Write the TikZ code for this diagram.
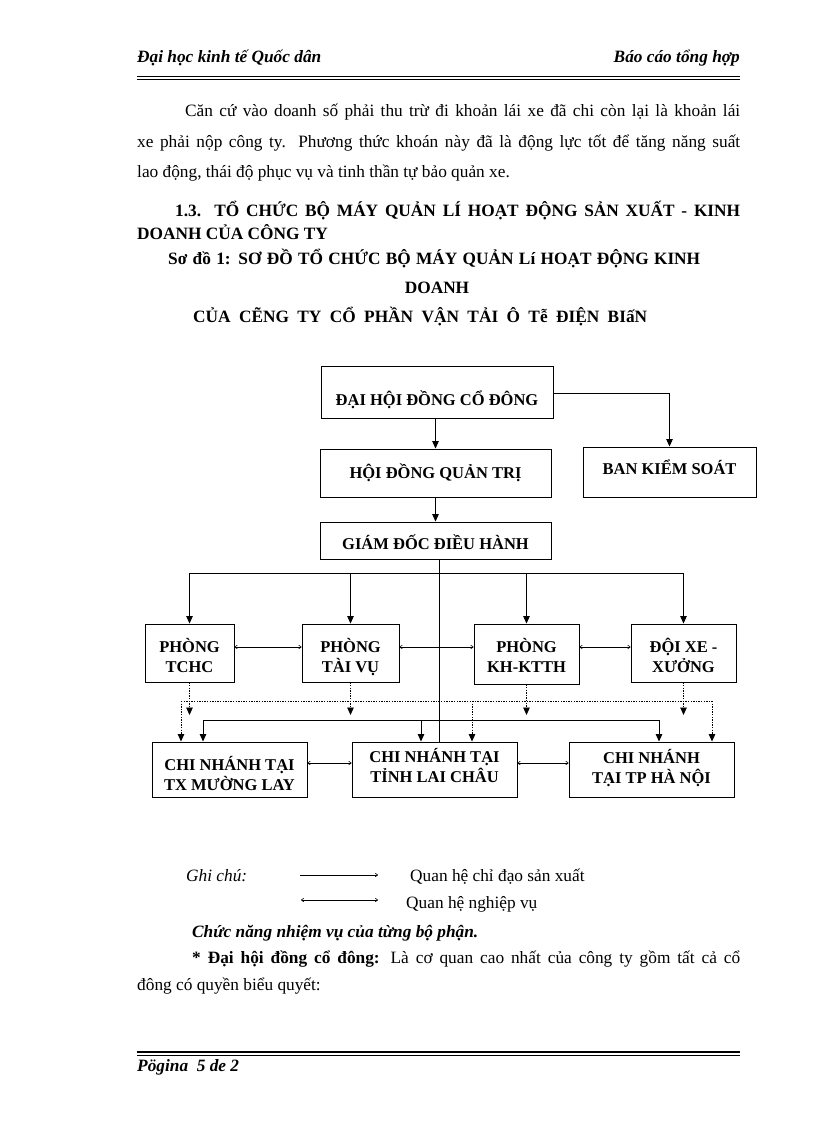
\documentclass[tikz,border=0pt]{standalone}
\usepackage{fontspec}
\setmainfont{Liberation Serif}
\usetikzlibrary{arrows.meta,calc}
\newcommand\boxtxt[2]{\raisebox{-#1pt}[0pt][0pt]{\begin{tabular}[t]{@{}c@{}}#2\end{tabular}}}
\begin{document}
\begin{tikzpicture}[x=1pt,y=-1pt,
  txt/.style={anchor=base west, inner sep=0pt, font=\fontsize{17.3}{20}\selectfont},
  btxt/.style={txt, font=\fontsize{17.3}{20}\selectfont\bfseries},
  bitxt/.style={txt, font=\fontsize{17.3}{20}\selectfont\bfseries\itshape},
  box/.style={draw, line width=0.9pt, inner sep=0pt, font=\fontsize{16.5}{19.5}\selectfont\bfseries},
  conn/.style={line width=0.9pt},
  arr/.style={conn, -{Triangle[length=7.5pt,width=6.5pt]}},
  dotl/.style={line width=0.9pt, dash pattern=on 1.3pt off 1.3pt},
  darr/.style={dotl, -{Triangle[length=7.5pt,width=6.5pt]}},
  dbl/.style={line width=0.6pt, {To[length=3pt,width=4pt]}-{To[length=3pt,width=4pt]}},
  sarr/.style={line width=0.6pt, -{To[length=3pt,width=4pt]}},
]
\useasboundingbox (0,0) rectangle (816,1123);
\fill[white] (0,0) rectangle (816,1123);

% header
\node[bitxt] (h1) at (137,63) {Đại học kinh tế Quốc dân};
\node[bitxt, anchor=base east] (h2) at (740,63) {Báo cáo tổng hợp};
\draw[line width=1.8pt] (137,76.5) -- (740,76.5);
\draw[line width=0.7pt] (137,79.4) -- (740,79.4);

% paragraph
\node[txt] (p1) at (185,117) {\makebox[555pt][s]{Căn cứ vào doanh số phải thu trừ đi khoản lái xe đã chi còn lại là khoản lái}};
\node[txt] (p2) at (137,148) {\makebox[603pt][s]{xe phải nộp công ty. Phương thức khoán này đã là động lực tốt để tăng năng suất}};
\node[txt] (p3) at (137,178) {lao động, thái độ phục vụ và tinh thần tự bảo quản xe.};

% headings
\node[btxt] (t1) at (175,217) {\makebox[565pt][s]{1.3. TỔ CHỨC BỘ MÁY QUẢN LÍ HOẠT ĐỘNG SẢN XUẤT - KINH}};
\node[btxt] (t2) at (137,240) {DOANH CỦA CÔNG TY};
\node[btxt] (t3) at (168,264) {\makebox[532pt][s]{Sơ đồ 1: SƠ ĐỒ TỔ CHỨC BỘ MÁY QUẢN Lí HOẠT ĐỘNG KINH}};
\node[btxt, anchor=base] (t4) at (437,293) {DOANH};
\node[btxt] (t5) at (193,322) {\makebox[454pt][s]{CỦA CẼNG TY CỔ PHẦN VẬN TẢI Ô Tễ ĐIỆN BIấN}};

% boxes
\node[box, minimum width=232pt, minimum height=52pt] (dh) at (437,392) {\boxtxt{13.5}{ĐẠI HỘI ĐỒNG CỔ ĐÔNG}};
\node[box, minimum width=231pt, minimum height=48pt] (hdqt) at (435.5,473) {\boxtxt{5.5}{HỘI ĐỒNG QUẢN TRỊ}};
\node[box, minimum width=173pt, minimum height=50pt] (bks) at (669.5,472) {\boxtxt{2.5}{BAN KIỂM SOÁT}};
\node[box, minimum width=231pt, minimum height=37pt] (gd) at (435.5,540.5) {\boxtxt{9}{GIÁM ĐỐC ĐIỀU HÀNH}};
\node[box, minimum width=89pt, minimum height=58pt] (tchc) at (189.5,653) {\boxtxt{-0.5}{PHÒNG\\TCHC}};
\node[box, minimum width=97pt, minimum height=58pt] (taivu) at (350.5,653) {\boxtxt{-0.5}{PHÒNG\\TÀI VỤ}};
\node[box, minimum width=105pt, minimum height=60pt] (kh) at (526.5,654) {\boxtxt{-1.5}{PHÒNG\\KH-KTTH}};
\node[box, minimum width=105pt, minimum height=58pt] (doixe) at (683.5,653) {\boxtxt{-0.5}{ĐỘI XE -\\XƯỞNG}};
\node[box, minimum width=155pt, minimum height=55pt] (ml) at (229.5,769.5) {\boxtxt{1}{CHI NHÁNH TẠI\\TX MƯỜNG LAY}};
\node[box, minimum width=165pt, minimum height=55pt] (lc) at (434.5,769.5) {\boxtxt{-7}{CHI NHÁNH TẠI\\TỈNH LAI CHÂU}};
\node[box, minimum width=165pt, minimum height=55pt] (hn) at (651.5,769.5) {\boxtxt{-6}{CHI NHÁNH\\TẠI TP HÀ NỘI}};

% top connectors
\draw[arr] (hdqt.north |- dh.south) -- (hdqt.north);
\draw[arr] (dh.east |- 0,393) -| (bks.north);
\draw[arr] (hdqt.south) -- (hdqt.south |- gd.north);
\coordinate (gdx) at ($(gd.south)+(3.5,0)$);
\draw[conn] (gdx) -- (gdx |- lc.north);

% bus 1
\coordinate (b1) at (0,573);
\draw[conn] (tchc.north |- b1) -- (doixe.north |- b1);
\foreach \n in {tchc,taivu,kh,doixe} \draw[arr] (\n.north |- b1) -- (\n.north);

% peer relations between departments
\coordinate (r1) at (0,647);
\draw[dbl] (tchc.east |- r1) -- (taivu.west |- r1);
\draw[dbl] (taivu.east |- r1) -- (kh.west |- r1);
\draw[dbl] (kh.east |- r1) -- (doixe.west |- r1);

% dotted relations
\coordinate (dt) at (0,715);
\foreach \n in {tchc,taivu,kh,doixe} \draw[darr] (\n.south) -- (\n.south |- dt);
\coordinate (dL) at (181,701);
\coordinate (dM) at (472,701);
\coordinate (dR) at (712,701);
\draw[dotl] (dL) -- (dR);
\draw[darr] (dL) -- (dL |- ml.north);
\draw[darr] (dM) -- (dM |- lc.north);
\draw[darr] (dR) -- (dR |- hn.north);

% bus 2
\coordinate (s2L) at (203,720);
\coordinate (s2M) at (421,720);
\coordinate (s2R) at (659,720);
\draw[conn] (s2L) -- (s2R);
\draw[arr] (s2L) -- (s2L |- ml.north);
\draw[arr] (s2M) -- (s2M |- lc.north);
\draw[arr] (s2R) -- (s2R |- hn.north);

% peer relations between branches
\coordinate (r2) at (0,763);
\draw[dbl] (ml.east |- r2) -- (lc.west |- r2);
\draw[dbl] (lc.east |- r2) -- (hn.west |- r2);

% legend
\node[txt, font=\fontsize{17.3}{20}\selectfont\itshape] (g1) at (186,881) {Ghi chú:};
\coordinate (la1) at (300,875);
\coordinate (la2) at (378,875);
\draw[sarr] (la1) -- (la2);
\node[txt] (g2) at (410,881) {Quan hệ chỉ đạo sản xuất};
\coordinate (lb1) at (301,900);
\coordinate (lb2) at (378,900);
\draw[dbl] (lb1) -- (lb2);
\node[txt] (g3) at (406,908) {Quan hệ nghiệp vụ};

\node[bitxt] (c1) at (192,937) {Chức năng nhiệm vụ của từng bộ phận.};
\node[txt] (c2) at (192,963) {\makebox[548pt][s]{\textbf{* Đại hội đồng cổ đông:} Là cơ quan cao nhất của công ty gồm tất cả cổ}};
\node[txt] (c3) at (137,990) {đông có quyền biểu quyết:};

% footer
\draw[line width=1.8pt] (137,1052) -- (740,1052);
\draw[line width=0.7pt] (137,1055) -- (740,1055);
\node[bitxt] (f1) at (137,1071) {Pögina\ \ 5 de 2};
\end{tikzpicture}
\end{document}
